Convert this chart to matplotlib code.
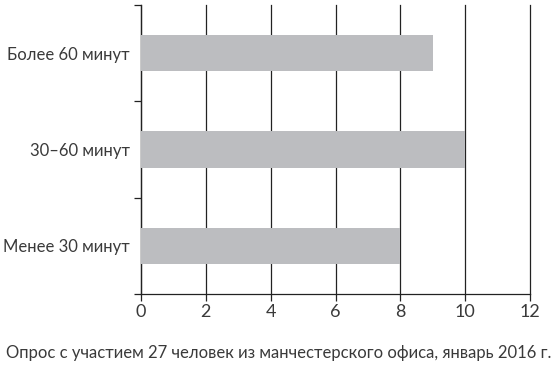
import matplotlib
matplotlib.use("Agg")
import matplotlib.pyplot as plt

categories = ["Менее 30 минут", "30–60 минут", "Более 60 минут"]
values = [8, 10, 9]
xticks = [0, 2, 4, 6, 8, 10, 12]
caption = "Опрос с участием 27 человек из манчестерского офиса, январь 2016 г."

plt.rcParams['font.family'] = ['Lato', 'DejaVu Sans']
txt = '#3a3a3a'

fig = plt.figure(figsize=(5.58, 3.70), dpi=100, facecolor='white')
ax = fig.add_axes([0.2527, 0.2054, 0.6973, 0.7811])

pos = list(range(len(categories)))
ax.barh(pos, values, height=0.38, color='#bcbdc0', zorder=3)

ax.set_xlim(0, 12)
ax.set_ylim(-0.5, len(categories) - 0.5)
ax.set_xticks(xticks)
ax.set_xticklabels([str(t) for t in xticks], fontsize=13, color=txt)
ax.set_yticks(pos)
ax.set_yticklabels(categories, fontsize=12, color=txt)
ax.set_yticks([-0.5, 0.5, 1.5, 2.5], minor=True)
ax.tick_params(axis='y', which='major', length=0, pad=8)
ax.tick_params(axis='y', which='minor', length=5, width=0.9, color='#222222')
ax.tick_params(axis='x', length=5, width=0.9, color='#222222', pad=2)

ax.grid(axis='x', color='#222222', linewidth=0.9, zorder=1)
# keep the last gridline (at 12) from being half clipped
for gl in ax.get_xgridlines():
    gl.set_clip_on(False)
for s in ['top', 'right']:
    ax.spines[s].set_visible(False)
ax.spines['left'].set_color('#222222')
ax.spines['bottom'].set_color('#222222')
ax.spines['left'].set_linewidth(0.9)
ax.spines['bottom'].set_linewidth(0.9)
ax.set_axisbelow(True)

fig.text(0.5, 0.045, caption, ha='center', va='center', fontsize=12, color=txt)

fig.savefig("out.png", dpi=100)
